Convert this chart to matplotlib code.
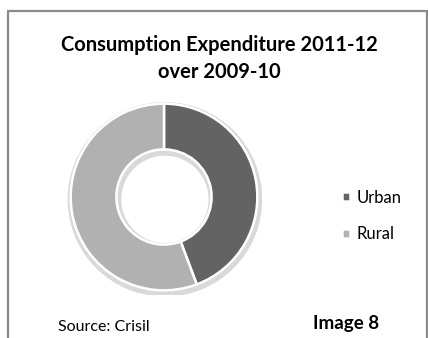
import matplotlib.pyplot as plt
from matplotlib.patches import Rectangle, Wedge

labels = ["Urban", "Rural"]
shares = [44.3, 55.7]
colors = ["#636363", "#b1b1b1"]

W, H = 428, 338
fig = plt.figure(figsize=(W / 100, H / 100), dpi=100)
plt.rcParams['font.family'] = ['Lato', 'DejaVu Sans']

# outer frame, open at the bottom
fig.patches.append(Rectangle((8 / W, -0.1), (W - 9) / W, (H - 11) / H + 0.1,
                             transform=fig.transFigure, fill=False,
                             edgecolor="#8a8a8a", linewidth=1.6))

fig.text(219 / W, 1 - 45 / H, "Consumption Expenditure 2011-12",
         ha="center", va="center", fontsize=14.5, fontweight="bold")
fig.text(219 / W, 1 - 72 / H, "over 2009-10",
         ha="center", va="center", fontsize=14.5, fontweight="bold")

ax = fig.add_axes([66 / W, 43 / H, 196 / W, 196 / H])
# soft shadow ring under the donut
ax.add_patch(Wedge((0.01, -0.025), 1.035, 0, 360, width=0.56,
                   color="#d9d9d9", zorder=0))
wedges, _ = ax.pie(shares, colors=colors, startangle=90, counterclock=False,
                   radius=1.0,
                   wedgeprops=dict(width=0.49, edgecolor="white", linewidth=1.8))
ax.set_xlim(-1.05, 1.05)
ax.set_ylim(-1.05, 1.05)
ax.set_aspect("equal")
ax.axis("off")

fig.legend(wedges, labels, loc="center left",
           bbox_to_anchor=(327 / W, 1 - 216 / H), frameon=False,
           fontsize=12, handlelength=0.5, handleheight=0.5,
           handletextpad=0.35, labelspacing=1.25)

fig.text(58 / W, 1 - 327 / H, "Source: Crisil", ha="left", va="center",
         fontsize=11.5)
fig.text(313 / W, 1 - 323 / H, "Image 8", ha="left", va="center",
         fontsize=13.5, fontweight="bold")

fig.savefig("out.png", dpi=100)
